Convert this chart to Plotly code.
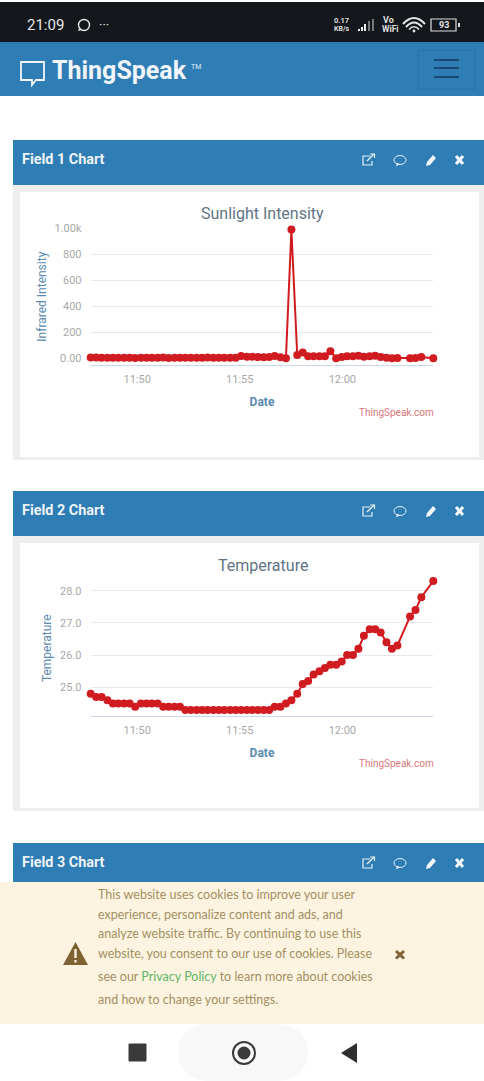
import plotly.graph_objects as go

day = "2021-06-01 "
clock = ["11:47:44","11:48:00","11:48:16","11:48:33","11:48:49","11:49:05","11:49:22","11:49:38","11:49:54","11:50:11",
         "11:50:27","11:50:43","11:51:00","11:51:16","11:51:32","11:51:49","11:52:05","11:52:21","11:52:37","11:52:54",
         "11:53:10","11:53:26","11:53:43","11:53:59","11:54:15","11:54:32","11:54:48","11:55:04","11:55:21","11:55:37",
         "11:55:53","11:56:10","11:56:26","11:56:42","11:56:59","11:57:15","11:57:31","11:57:48","11:58:04","11:58:20",
         "11:58:36","11:58:53","11:59:09","11:59:25","11:59:42","11:59:58","12:00:14","12:00:31","12:00:47","12:01:03",
         "12:01:20","12:01:36","12:01:52","12:02:09","12:02:25","12:02:41","12:03:18","12:03:34","12:03:51","12:04:26"]
sunlight = [6,6,4,4,5,5,4,4,3,4,
            4,5,5,6,3,5,5,5,5,5,
            5,6,4,5,5,5,4,18,12,12,
            10,8,10,18,8,0,990,25,45,15,
            15,15,15,55,0,10,15,15,20,12,
            15,20,10,5,0,2,0,2,10,0]
temperature = [24.8,24.7,24.7,24.6,24.5,24.5,24.5,24.5,24.4,24.5,
               24.5,24.5,24.5,24.4,24.4,24.4,24.4,24.3,24.3,24.3,
               24.3,24.3,24.3,24.3,24.3,24.3,24.3,24.3,24.3,24.3,
               24.3,24.3,24.3,24.4,24.4,24.5,24.6,24.8,25.1,25.2,
               25.4,25.5,25.6,25.7,25.7,25.8,26.0,26.0,26.2,26.6,
               26.8,26.8,26.7,26.4,26.2,26.3,27.2,27.4,27.8,28.3]
sun_ticks = [0,200,400,600,800,1000]
sun_labels = ["0.00","200","400","600","800","1.00k"]
temp_ticks = [25,26,27,28]
temp_labels = ["25.0","26.0","27.0","28.0"]
time_ticks = ["11:50:00","11:55:00","12:00:00"]
time_labels = ["11:50","11:55","12:00"]
times = [day + t for t in clock]

W, H = 484, 1081
X = lambda x: x / W
Y = lambda y: 1 - y / H
shapes, notes = [], []
NONE = "rgba(0,0,0,0)"

def rect(x0, y0, x1, y1, fill, line=None, lw=1):
    shapes.append(dict(type="rect", xref="paper", yref="paper", x0=X(x0), x1=X(x1), y0=Y(y0), y1=Y(y1),
                       fillcolor=fill, line=dict(color=line or NONE, width=lw if line else 0), layer="below"))

def circ(cx, cy, r, fill=NONE, line=None, lw=1):
    shapes.append(dict(type="circle", xref="paper", yref="paper", x0=X(cx-r), x1=X(cx+r), y0=Y(cy-r), y1=Y(cy+r),
                       fillcolor=fill, line=dict(color=line or NONE, width=lw if line else 0), layer="below"))

def poly(pts, fill=NONE, line=None, lw=1, close=True):
    d = "M" + " L".join(f"{X(a):.5f},{Y(b):.5f}" for a, b in pts) + (" Z" if close else "")
    shapes.append(dict(type="path", xref="paper", yref="paper", path=d, fillcolor=fill,
                       line=dict(color=line or NONE, width=lw if line else 0), layer="below"))

def curve(start, ctrl, end, line, lw):
    d = f"M{X(start[0]):.5f},{Y(start[1]):.5f} Q{X(ctrl[0]):.5f},{Y(ctrl[1]):.5f} {X(end[0]):.5f},{Y(end[1]):.5f}"
    shapes.append(dict(type="path", xref="paper", yref="paper", path=d, line=dict(color=line, width=lw), layer="below"))

def txt(x, y, s, size, color, family="Roboto", anchor="left", angle=0):
    notes.append(dict(xref="paper", yref="paper", x=X(x), y=Y(y), text=s, showarrow=False, xanchor=anchor,
                      yanchor="middle", textangle=angle, borderpad=0, borderwidth=0,
                      font=dict(size=size, color=color, family=family)))

BLUE = "#2f7db5"
# page chrome
rect(0, 2, W, 42, "#14171c")
rect(0, 42, W, 96, BLUE)
txt(27, 25, "21:09", 15, "#e6e6e6")
circ(84, 25, 5.5, line="#e6e6e6", lw=1.4)
poly([(78, 31), (79.5, 27), (82, 30)], fill="#e6e6e6")
txt(99, 24, "···", 13, "#e6e6e6")
txt(334, 21, "<b>0.17</b>", 7.5, "#dddddd")
txt(334, 29, "<b>KB/s</b>", 7, "#dddddd")
for bx, top, c in [(358, 29, "#eee"), (361, 27, "#eee"), (364, 24, "#eee"), (368, 21, "#777"), (372, 19, "#777")]:
    rect(bx, top, bx + 2, 31, c)
txt(383, 20, "<b>Vo</b>", 9, "#dddddd")
txt(382, 29, "<b>WiFi</b>", 8.5, "#dddddd")
curve((403, 24), (414, 12), (425, 24), "#e6e6e6", 2)
curve((406, 27), (414, 18), (422, 27), "#e6e6e6", 2)
curve((409, 29.5), (414, 24), (419, 29.5), "#e6e6e6", 1.6)
circ(414, 31, 1.4, fill="#e6e6e6")
rect(431, 19, 456, 31, NONE, line="#dddddd", lw=1.2)
rect(458, 23, 460, 27, "#dddddd")
txt(443.5, 25, "<b>93</b>", 9, "#e6e6e6", anchor="center")

poly([(21, 62), (44, 62), (44, 80), (36, 80), (32, 85), (32, 80), (21, 80)], line="#f2f6fa", lw=1.8)
txt(52, 70, "<b>ThingSpeak</b>", 25, "#f2f6fa")
txt(191, 67, "TM", 7, "#e0ebf3")
rect(418, 50, 475, 89, NONE, line="#2a72a6", lw=1)
for ly in (60, 68, 77):
    rect(434, ly - 0.8, 459, ly + 0.8, "#123f63")

def icons(y):
    poly([(370, y-4), (363, y-4), (363, y+5), (372, y+5), (372, y+1)], line="#e6f0f7", lw=1.2, close=False)
    poly([(367, y+1), (374, y-6)], line="#e6f0f7", lw=1.4, close=False)
    poly([(370, y-6), (374.5, y-6), (374.5, y-2)], line="#e6f0f7", lw=1.2, close=False)
    shapes.append(dict(type="circle", xref="paper", yref="paper", x0=X(394), x1=X(406), y0=Y(y+4.5), y1=Y(y-4.5),
                       line=dict(color="#e6f0f7", width=1), layer="below"))
    poly([(396, y+6.5), (397, y+3), (400, y+4)], fill="#e6f0f7")
    poly([(426, y+6), (427, y+2), (433, y-5), (436, y-2), (430, y+5)], fill="#f2f6fa")
    poly([(456, y-4), (463, y+4)], line="#f7fafc", lw=3, close=False)
    poly([(463, y-4), (456, y+4)], line="#f7fafc", lw=3, close=False)

# panels
for top, bottom, label in [(140, 460, "Field 1 Chart"), (491, 811, "Field 2 Chart")]:
    rect(13, top + 45, W, bottom, "#eeeeee")
    rect(20, top + 52, 479, bottom - 3, "#ffffff")
    rect(13, top, W, top + 45, BLUE)
    txt(22, top + 19, "<b>" + label + "</b>", 14.4, "#eef4f9")
    icons(top + 20)
rect(13, 843, W, 882, BLUE)
txt(22, 862, "<b>Field 3 Chart</b>", 14.4, "#eef4f9")
icons(863)

# chart texts
NAVY = "#5b8ab0"
txt(262.5, 214, "Sunlight Intensity", 16, "#5f7485", anchor="center")
txt(262.5, 565, "Temperature", 16, "#5f7485", anchor="center")
txt(433.5, 412, "ThingSpeak.com", 10, "#d9777a", anchor="right")
txt(433.5, 763, "ThingSpeak.com", 10, "#d9777a", anchor="right")

# cookie banner
rect(0, 882, W, 1024, "#fcf4e1")
COOK = "#a38f63"
for ly, line in [(894, "This website uses cookies to improve your user"),
                 (914, "experience, personalize content and ads, and"),
                 (933.5, "analyze website traffic. By continuing to use this"),
                 (953, "website, you consent to our use of cookies. Please"),
                 (976, "see our <span style='color:#5fb665'>Privacy Policy</span> to learn more about cookies"),
                 (999, "and how to change your settings.")]:
    txt(98, ly, line, 12.5, COOK, family="Lato")
poly([(75.5, 942), (88, 965), (63, 965)], fill="#7f6231")
rect(74.3, 949, 76.7, 958, "#fcf4e1")
rect(74.3, 960, 76.7, 962.5, "#fcf4e1")
poly([(396, 951), (404, 958.5)], line="#7f6231", lw=3, close=False)
poly([(404, 951), (396, 958.5)], line="#7f6231", lw=3, close=False)

# nav bar
shapes.append(dict(type="path", xref="paper", yref="paper", fillcolor="#f8f8f8", line=dict(width=0), layer="below",
                   path=f"M{X(210)},{Y(1024)} L{X(276)},{Y(1024)} C{X(300)},{Y(1024)} {X(308)},{Y(1040)} {X(308)},{Y(1053)} "
                        f"C{X(308)},{Y(1066)} {X(300)},{Y(1081)} {X(276)},{Y(1081)} L{X(210)},{Y(1081)} "
                        f"C{X(186)},{Y(1081)} {X(178)},{Y(1066)} {X(178)},{Y(1053)} C{X(178)},{Y(1040)} {X(186)},{Y(1024)} {X(210)},{Y(1024)} Z"))
rect(129, 1044, 146, 1061, "#3a3a3a", line="#3a3a3a", lw=1)
circ(244, 1053, 11, line="#3a3a3a", lw=2)
circ(244, 1053, 6.5, fill="#3a3a3a")
poly([(357, 1043), (357, 1063), (341, 1053)], fill="#2e2e2e")

fig = go.Figure()
RED = "#d01c20"
for series, suffix, name in [(sunlight, "", "Sunlight Intensity"), (temperature, "2", "Temperature")]:
    fig.add_trace(go.Scatter(x=times, y=series, mode="lines+markers", name=name, xaxis="x" + suffix, yaxis="y" + suffix,
                             cliponaxis=False, line=dict(color=RED, width=2), marker=dict(color=RED, size=8, line=dict(width=0))))

TITLE = dict(size=12, color=NAVY, family="Roboto")
def xaxis(anchor):
    return dict(domain=[90.7 / W, 433.3 / W], anchor=anchor, type="date",
                range=[day + "11:47:44", day + "12:04:26"],
                tickvals=[day + t for t in time_ticks], ticktext=time_labels, ticks="outside", ticklen=4, tickcolor=NONE,
                showgrid=False, showline=True, linecolor="#ccd6eb", linewidth=1, zeroline=False,
                tickfont=dict(size=11, color="#a8a8a8", family="Roboto"),
                title=dict(text="<b>Date</b>", font=TITLE, standoff=12))
def yaxis(anchor, top, bottom, rng, vals, labels, title):
    return dict(domain=[1 - bottom / H, 1 - top / H], anchor=anchor, range=rng, tickvals=vals, ticktext=labels,
                ticks="outside", ticklen=6, tickcolor=NONE, showgrid=True, gridcolor="#e8e8e8", gridwidth=1,
                zeroline=False, showline=False,
                tickfont=dict(size=11, color="#a8a8a8", family="Roboto"),
                title=dict(text=title, font=TITLE, standoff=5))

fig.update_layout(
    width=W, height=H, margin=dict(l=0, r=0, t=0, b=0, autoexpand=False), paper_bgcolor="#ffffff",
    plot_bgcolor=NONE, showlegend=False, shapes=shapes, annotations=notes,
    xaxis=xaxis("y"),
    yaxis=yaxis("x", 228.3, 365, [-51.5, 1000], sun_ticks, sun_labels, "Infrared Intensity"),
    xaxis2=xaxis("y2"),
    yaxis2=yaxis("x2", 580.4, 716, [24.11, 28.32], temp_ticks, temp_labels, "Temperature"),
)
fig.write_html("out.html", config=dict(displayModeBar=False),
               post_script="document.body.style.margin='0';document.documentElement.style.overflow='hidden';")
